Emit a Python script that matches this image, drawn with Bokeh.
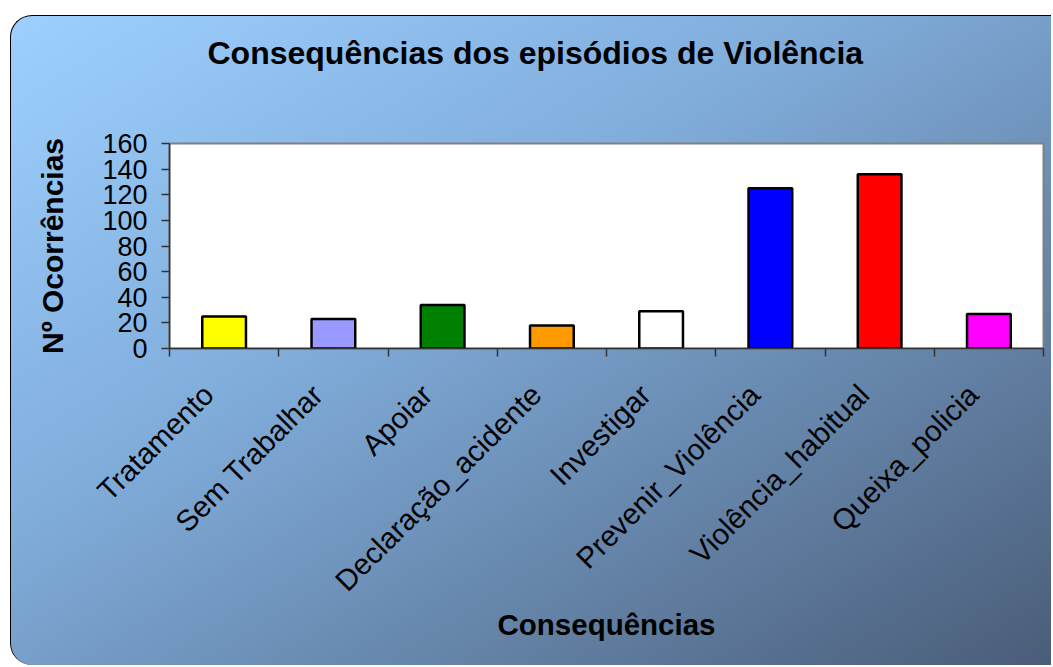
from bokeh.plotting import figure
from bokeh.models import Range1d, FixedTicker, CustomJSTickFormatter, ColumnDataSource, Title
from bokeh.embed import file_html
from bokeh.resources import INLINE

categories = ["Tratamento", "Sem Trabalhar", "Apoiar", "Declaração_acidente",
              "Investigar", "Prevenir_Violência", "Violência_habitual", "Queixa_policia"]
values = [25, 23, 34, 18, 29, 125, 136, 27]
colors = ["#FFFF00", "#9999FF", "#008000", "#FF9900", "#FFFFFF", "#0000FF", "#FF0000", "#FF00FF"]
y_ticks = [0, 20, 40, 60, 80, 100, 120, 140, 160]

title_text = "Consequências dos episódios de Violência"
x_title = "Consequências"
y_title = "Nº Ocorrências"

n = len(categories)
centers = [i + 0.5 for i in range(n)]
bounds = list(range(n + 1))
# label anchors sit a little left of the bar centre, as in the original
label_anchor = [c - 0.145 for c in centers]

src = ColumnDataSource(dict(x=centers, top=values, color=colors, name=categories))

FONT = "Liberation Sans"

p = figure(width=1041, height=650, output_backend="svg", toolbar_location=None,
           x_range=Range1d(0, n), y_range=Range1d(0, 160),
           min_border_left=158, min_border_right=9, min_border_top=127, min_border_bottom=318)

p.styles = {
    "margin-left": "10px",
    "margin-top": "15px",
    "background": "linear-gradient(to bottom right, #9DD0FF 0%, #80ACDA 40%, #4A5D78 100%)",
    "border-top": "1.5px solid #000",
    "border-left": "1.5px solid #000",
    "border-top-left-radius": "22px",
    "border-bottom-left-radius": "22px",
}
p.border_fill_alpha = 0
p.background_fill_color = "#FFFFFF"
p.outline_line_color = "#808080"
p.outline_line_width = 2
p.xgrid.visible = False
p.ygrid.visible = False

p.vbar(x="x", top="top", width=0.4, bottom=0, fill_color="color",
       line_color="#000000", line_width=2.5, source=src)

# real title (outermost) and an empty spacer title nearest the frame that pushes it up
p.title = Title(text=title_text, align="left", offset=38, standoff=0,
                text_font=FONT, text_font_size="32px", text_font_style="bold",
                text_color="#000000")
p.add_layout(Title(text=" ", text_font_size="1px", standoff=70), "above")

# x axis
xa = p.xaxis[0]
xa.ticker = FixedTicker(ticks=label_anchor, minor_ticks=bounds)
xa.formatter = CustomJSTickFormatter(args=dict(labels=categories),
                                     code="return labels[Math.floor(tick)];")
xa.major_label_orientation = 0.785398
xa.major_tick_out = 0
xa.major_tick_in = 0
xa.minor_tick_out = 8
xa.minor_tick_in = 0
xa.minor_tick_line_color = "#333333"
xa.minor_tick_line_width = 1.5
xa.axis_line_color = "#333333"
xa.axis_line_width = 1.5
xa.major_label_text_font = FONT
xa.major_label_text_font_size = "29.5px"
xa.major_label_text_color = "#000000"
xa.major_label_standoff = 33
xa.axis_label = x_title
xa.axis_label_text_font = FONT
xa.axis_label_text_font_size = "29.5px"
xa.axis_label_text_font_style = "bold"
xa.axis_label_text_color = "#000000"
xa.axis_label_standoff = -4

# y axis
ya = p.yaxis[0]
ya.ticker = FixedTicker(ticks=y_ticks)
ya.major_tick_out = 8
ya.major_tick_in = 0
ya.minor_tick_out = 0
ya.minor_tick_in = 0
ya.major_tick_line_color = "#333333"
ya.major_tick_line_width = 1.5
ya.axis_line_color = "#333333"
ya.axis_line_width = 1.5
ya.major_label_text_font = FONT
ya.major_label_text_font_size = "27px"
ya.major_label_text_color = "#000000"
ya.major_label_standoff = 14
ya.axis_label = y_title
ya.axis_label_text_font = FONT
ya.axis_label_text_font_size = "30px"
ya.axis_label_text_font_style = "bold"
ya.axis_label_text_color = "#000000"
ya.axis_label_standoff = 30

open("out.html", "w").write(file_html(p, INLINE))
